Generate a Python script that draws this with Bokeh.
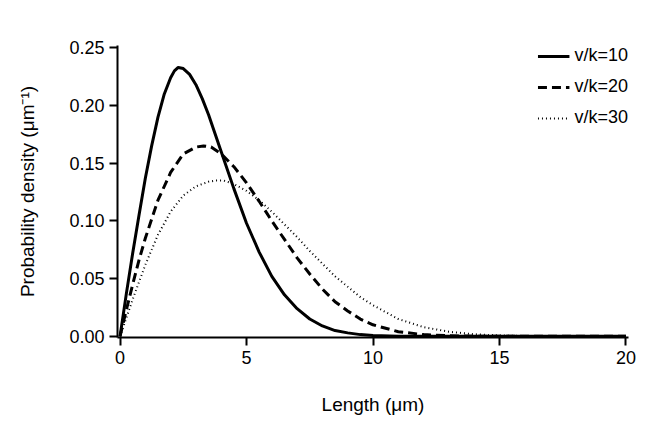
from bokeh.plotting import figure
from bokeh.models import Range1d, Legend, LegendItem, CustomJSTickFormatter
from bokeh.embed import file_html
from bokeh.resources import INLINE

x10 = [0,0.25,0.5,0.75,1,1.25,1.5,1.75,2,2.15,2.3,2.5,2.75,3,3.25,3.5,3.75,4,4.5,5,5.5,6,6.5,7,7.5,8,8.5,9,9.5,10,11,20]
y10 = [0,0.037,0.072,0.105,0.137,0.165,0.19,0.21,0.224,0.23,0.233,0.232,0.227,0.218,0.206,0.192,0.176,0.16,0.128,0.098,0.073,0.052,0.036,0.024,0.015,0.009,0.005,0.003,0.0015,0.0007,0.0001,0]
x20 = [0,0.25,0.5,0.75,1,1.5,2,2.5,3,3.3,3.6,4,4.5,5,5.5,6,6.5,7,7.5,8,8.5,9,9.5,10,11,12,13,14,20]
y20 = [0,0.023,0.045,0.066,0.085,0.118,0.142,0.158,0.164,0.165,0.164,0.158,0.147,0.133,0.117,0.1,0.084,0.068,0.054,0.041,0.03,0.022,0.015,0.01,0.004,0.0015,0.0005,0.0001,0]
x30 = [0,0.25,0.5,0.75,1,1.5,2,2.5,3,3.5,3.8,4.1,4.5,5,5.5,6,6.5,7,7.5,8,8.5,9,9.5,10,11,12,13,14,15,16,17,20]
y30 = [0,0.016,0.032,0.047,0.062,0.088,0.108,0.122,0.13,0.134,0.135,0.135,0.132,0.126,0.118,0.108,0.097,0.086,0.074,0.063,0.052,0.043,0.034,0.027,0.015,0.008,0.004,0.0018,0.0008,0.0003,0.0001,0]
labels = ["v/k=10", "v/k=20", "v/k=30"]

F = "Liberation Sans"
p = figure(width=647, height=429, output_backend="svg", toolbar_location=None,
           x_range=Range1d(-0.1, 20.1), y_range=Range1d(-0.001, 0.252))
p.outline_line_color = None
p.xgrid.visible = False
p.ygrid.visible = False
p.min_border_left = 117
p.min_border_right = 19
p.min_border_top = 45
p.min_border_bottom = 92

r1 = p.line(x10, y10, line_color="black", line_width=3)
r2 = p.line(x20, y20, line_color="black", line_width=3, line_dash="9 5")
r3 = p.line(x30, y30, line_color="black", line_width=2, line_dash="1 3")

for ax in (p.xaxis[0], p.yaxis[0]):
    ax.axis_line_width = 2
    ax.major_tick_line_width = 2
    ax.major_tick_out = 8
    ax.major_tick_in = 0
    ax.minor_tick_line_color = None
    ax.major_label_text_font = F
    ax.major_label_text_font_size = "18px"
    ax.major_label_text_color = "black"
    ax.axis_label_text_font = F
    ax.axis_label_text_font_size = "19px"
    ax.axis_label_text_font_style = "normal"
    ax.axis_label_text_color = "black"
p.xaxis.axis_label_standoff = 27
p.yaxis.axis_label_standoff = 28
p.xaxis.ticker = [0, 5, 10, 15, 20]
p.yaxis.ticker = [0, 0.05, 0.1, 0.15, 0.2, 0.25]
p.yaxis.formatter = CustomJSTickFormatter(code="return tick.toFixed(2);")
p.xaxis.axis_label = "Length (μm)"
p.yaxis.axis_label = "Probability density (μm⁻¹)"

leg = Legend(items=[LegendItem(label=labels[0], renderers=[r1]),
                    LegendItem(label=labels[1], renderers=[r2]),
                    LegendItem(label=labels[2], renderers=[r3])],
             location="top_right", border_line_color=None, background_fill_alpha=0,
             label_text_font=F, label_text_font_size="18px", label_text_color="black",
             glyph_width=32, spacing=10, margin=0)
p.add_layout(leg)

open("out.html", "w").write(file_html(p, INLINE))
